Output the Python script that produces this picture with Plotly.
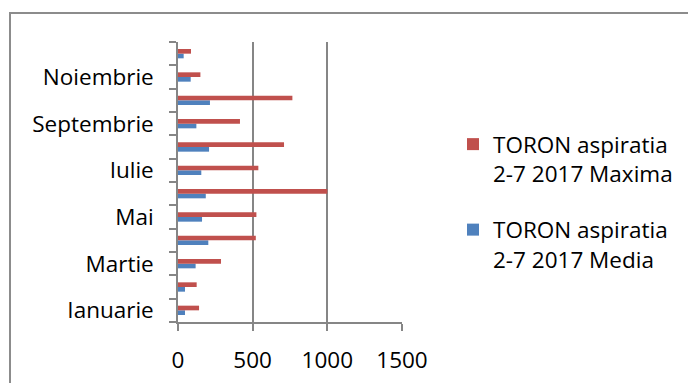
import plotly.graph_objects as go

months = ["Ianuarie", "Februarie", "Martie", "Aprilie", "Mai", "Iunie",
          "Iulie", "August", "Septembrie", "Octombrie", "Noiembrie", "Decembrie"]
tick_labels = ["Ianuarie", "", "Martie", "", "Mai", "", "Iulie", "", "Septembrie", "", "Noiembrie", ""]
media = [47, 47, 118, 203, 161, 186, 156, 208, 123, 214, 85, 38]
maxima = [141, 125, 288, 521, 525, 1000, 538, 710, 415, 766, 150, 87]
x_ticks = [0, 500, 1000, 1500]

FONT = "Open Sans"
GRAY = "#868686"

fig = go.Figure()
fig.add_trace(go.Bar(y=months, x=media, orientation="h",
                     name="TORON aspiratia<br>2-7 2017 Media", legendgroup="media",
                     legendrank=2, marker=dict(color="#4F81BD")))
fig.add_trace(go.Bar(y=months, x=maxima, orientation="h",
                     name="TORON aspiratia<br>2-7 2017 Maxima", legendgroup="maxima",
                     legendrank=1, marker=dict(color="#C0504D")))

OFF = 8  # page body margin
W, H = 696, 383
L, T = 178 - OFF, 42 - OFF
pw, ph = 224, 280
R = W - L - pw
B = H - T - ph

def px_to_paper_x(p):
    return (p - OFF - L) / pw

def px_to_paper_y(p):
    return (H - B - (p - OFF)) / ph

fig.add_shape(type="rect", xref="paper", yref="paper",
              x0=px_to_paper_x(10), x1=px_to_paper_x(730),
              y0=px_to_paper_y(430), y1=px_to_paper_y(13),
              line=dict(color="#8c8c8c", width=2), fillcolor="rgba(0,0,0,0)",
              layer="below")

fig.update_layout(
    template="none",
    width=W, height=H,
    margin=dict(l=L, r=R, t=T, b=B, autoexpand=False),
    paper_bgcolor="white", plot_bgcolor="white",
    barmode="group", bargap=0.6, bargroupgap=0.0,
    font=dict(family=FONT, size=22.5, color="black"),
    showlegend=True,
    legend=dict(traceorder="grouped", x=px_to_paper_x(453), xanchor="left",
                y=px_to_paper_y(123), yanchor="top",
                font=dict(family=FONT, size=22.5, color="black"),
                valign="top", tracegroupgap=24, itemwidth=30,
                bgcolor="rgba(0,0,0,0)", borderwidth=0),
    xaxis=dict(range=[0, 1500], tickvals=x_ticks, ticktext=[str(v) for v in x_ticks],
               showgrid=True, gridcolor=GRAY, gridwidth=1.5,
               showline=True, linecolor=GRAY, linewidth=1.5,
               ticks="outside", ticklen=7, tickcolor=GRAY, tickwidth=1.5,
               zeroline=False, fixedrange=True, ticklabelstandoff=10,
               automargin=False),
    yaxis=dict(type="category", categoryorder="array", categoryarray=months,
               tickvals=months, ticktext=tick_labels, tickson="boundaries",
               showline=True, linecolor=GRAY, linewidth=1.5,
               ticks="outside", ticklen=7, tickcolor=GRAY, tickwidth=1.5,
               showgrid=False, zeroline=False, fixedrange=True,
               ticklabelstandoff=18, automargin=False),
)

fig.write_html("out.html")
